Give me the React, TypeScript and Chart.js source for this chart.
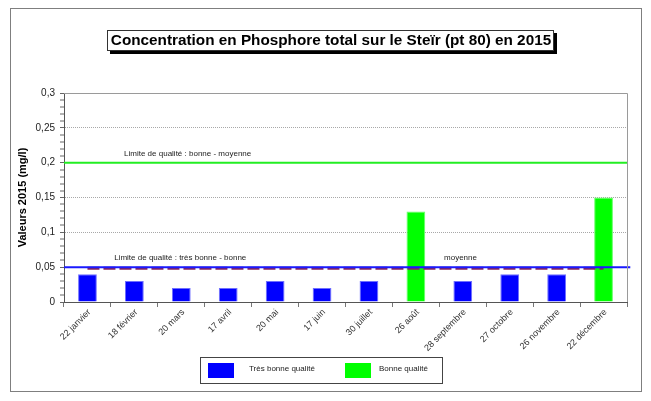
import React, { useEffect, useRef } from "react";
import { Chart, registerables } from "chart.js";

Chart.register(...registerables);

const categories = [
  "22 janvier", "18 février", "20 mars", "17 avril", "20 mai", "17 juin",
  "30 juillet", "26 août", "28 septembre", "27 octobre", "26 novembre", "22 décembre",
];
const tresBonneQualite = [0.04, 0.03, 0.02, 0.02, 0.03, 0.02, 0.03, null, 0.03, 0.04, 0.04, null];
const bonneQualite = [null, null, null, null, null, null, null, 0.13, null, null, null, 0.15];
const limiteBonneMoyenne = 0.2;
const limiteTresBonneBonne = 0.05;
const moyenne = 0.0483;
const yTickLabels = ["0", "0,05", "0,1", "0,15", "0,2", "0,25", "0,3"];
const titleText = "Concentration en Phosphore total sur le Steïr (pt 80) en 2015";
const yTitle = "Valeurs 2015 (mg/l)";

const FONT = "'Liberation Sans', Arial, sans-serif";

const isMajor = (v: number) => Math.abs(v * 20 - Math.round(v * 20)) < 1e-6;

const decorPlugin = {
  id: "decor",
  afterDraw(chart: any) {
    const { ctx, chartArea } = chart;
    const xl = chart.scales.xl;
    const y = chart.scales.y;
    ctx.save();
    // outer frame
    ctx.strokeStyle = "#7f7f7f";
    ctx.lineWidth = 1;
    ctx.strokeRect(10.5, 8.5, 631, 383);
    // plot area top/right border
    ctx.strokeStyle = "#9a9a9a";
    ctx.beginPath();
    ctx.moveTo(chartArea.left, Math.round(chartArea.top) + 0.5);
    ctx.lineTo(Math.round(chartArea.right) + 0.5, Math.round(chartArea.top) + 0.5);
    ctx.lineTo(Math.round(chartArea.right) + 0.5, chartArea.bottom);
    ctx.stroke();
    // title box with shadow
    ctx.fillStyle = "#000";
    ctx.fillRect(110, 33, 447, 21);
    ctx.fillStyle = "#fff";
    ctx.fillRect(107, 30, 447, 21);
    ctx.strokeStyle = "#333";
    ctx.strokeRect(107.5, 30.5, 446, 20);
    ctx.fillStyle = "#000";
    ctx.font = `bold 15.3px ${FONT}`;
    ctx.textAlign = "center";
    ctx.textBaseline = "middle";
    ctx.fillText(titleText, 331, 41);
    // annotations
    const notes = [
      { text: "Limite de qualité : bonne - moyenne", x: 0.78, y: limiteBonneMoyenne },
      { text: "Limite de qualité : très bonne - bonne", x: 0.57, y: limiteTresBonneBonne },
      { text: "moyenne", x: 7.6, y: limiteTresBonneBonne },
    ];
    ctx.font = `8px ${FONT}`;
    ctx.fillStyle = "#222";
    ctx.textAlign = "left";
    ctx.textBaseline = "alphabetic";
    for (const n of notes) {
      ctx.fillText(n.text, xl.getPixelForValue(n.x), y.getPixelForValue(n.y) - 7);
    }
    // legend
    ctx.strokeStyle = "#444";
    ctx.lineWidth = 1;
    ctx.strokeRect(200.5, 357.5, 242, 26);
    const items = chart.data.datasets.filter((d: any) => d.type === "bar");
    const swX = [208, 345];
    const txX = [249, 379];
    ctx.font = `8px ${FONT}`;
    ctx.textBaseline = "middle";
    items.forEach((d: any, i: number) => {
      ctx.fillStyle = d.backgroundColor;
      ctx.fillRect(swX[i], 363, 26, 15);
      ctx.fillStyle = "#222";
      ctx.fillText(d.label, txX[i], 369);
    });
    ctx.restore();
  },
};

export default function App() {
  const ref = useRef<HTMLCanvasElement>(null);
  useEffect(() => {
    if (!ref.current) return;
    const chart = new Chart(ref.current, {
      type: "bar",
      data: {
        labels: categories,
        datasets: [
          {
            type: "line",
            label: "limite très bonne - bonne",
            data: [{ x: -0.5, y: limiteTresBonneBonne }, { x: 11.57, y: limiteTresBonneBonne }],
            xAxisID: "xl",
            borderColor: "#1a1aff",
            borderWidth: 2,
            pointRadius: 0,
            clip: false,
            order: 0,
          } as any,
          {
            type: "line",
            label: "limite bonne - moyenne",
            data: [{ x: -0.5, y: limiteBonneMoyenne }, { x: 11.5, y: limiteBonneMoyenne }],
            xAxisID: "xl",
            borderColor: "#22ee22",
            borderWidth: 2,
            pointRadius: 0,
            order: 0,
          } as any,
          {
            type: "line",
            label: "moyenne",
            data: [{ x: 0, y: moyenne }, { x: 11, y: moyenne }],
            xAxisID: "xl",
            borderColor: "#8a2558",
            borderWidth: 3,
            borderDash: [12, 4],
            pointRadius: 0,
            order: 1,
          } as any,
          {
            type: "bar",
            label: "Très bonne qualité",
            data: tresBonneQualite,
            xAxisID: "x",
            backgroundColor: "#0000ff",
            borderColor: "#6f6fff",
            borderWidth: 1,
            grouped: false,
            categoryPercentage: 0.8,
            barPercentage: 0.5,
            order: 2,
          } as any,
          {
            type: "bar",
            label: "Bonne qualité",
            data: bonneQualite,
            xAxisID: "x",
            backgroundColor: "#00ff00",
            borderColor: "#66ff66",
            borderWidth: 1,
            grouped: false,
            categoryPercentage: 0.8,
            barPercentage: 0.5,
            order: 2,
          } as any,
        ],
      },
      options: {
        responsive: false,
        animation: false,
        layout: { padding: { left: 10, right: 24, top: 93, bottom: 39 } },
        plugins: {
          legend: { display: false },
          tooltip: { enabled: false },
          title: { display: false },
        },
        scales: {
          x: {
            type: "category",
            offset: true,
            afterFit: (s: any) => { s.height = 60; },
            ticks: {
              autoSkip: false,
              maxRotation: 45,
              minRotation: 45,
              color: "#333",
              font: { family: FONT, size: 9 },
              padding: 0,
              labelOffset: 2,
            },
            grid: {
              offset: true,
              drawOnChartArea: false,
              tickLength: 5,
              color: "#777",
            },
            border: { color: "#555", width: 1 },
          },
          xl: {
            type: "linear",
            display: false,
            offset: false,
            min: -0.5,
            max: 11.5,
          },
          y: {
            type: "linear",
            min: 0,
            max: 0.3,
            afterFit: (s: any) => { s.width = 54; },
            title: {
              display: true,
              text: yTitle,
              color: "#000",
              font: { family: FONT, size: 11, weight: "bold" },
              padding: { top: 6, bottom: 4 },
            },
            ticks: {
              stepSize: 0.01,
              autoSkip: false,
              color: "#222",
              padding: 5,
              font: { family: FONT, size: 10 },
              callback: (v: any) => (isMajor(Number(v)) ? yTickLabels[Math.round(Number(v) * 20)] : ""),
            },
            grid: {
              color: (c: any) => (c.tick && isMajor(c.tick.value) ? "#a8a8a8" : "rgba(0,0,0,0)"),
              lineWidth: (c: any) => (c.tick && isMajor(c.tick.value) ? 1 : 0),
              tickColor: "#666",
              tickLength: 4,
              tickWidth: 1,
            },
            border: { color: "#555", width: 1, dash: [1, 1] },
          },
        },
      },
      plugins: [decorPlugin],
    });
    return () => chart.destroy();
  }, []);
  return (
    <div style={{ position: "fixed", left: 0, top: 0, width: 651, height: 401, background: "#fff" }}>
      <canvas ref={ref} width={651} height={401} style={{ display: "block" }} />
    </div>
  );
}
